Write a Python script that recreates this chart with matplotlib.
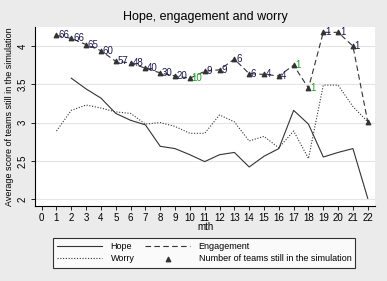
import matplotlib.pyplot as plt

plt.rcParams["font.family"] = ["Liberation Sans", "DejaVu Sans"]

months = list(range(1, 23))
hope = [None, 3.58, 3.44, 3.32, 3.12, 3.03, 2.97, 2.69, 2.66, 2.58, 2.49, 2.58, 2.61,
        2.42, 2.56, 2.66, 3.16, 2.98, 2.55, 2.61, 2.66, 2.01]
worry = [2.89, 3.16, 3.23, 3.19, 3.14, 3.12, 2.98, 3.00, 2.95, 2.86, 2.86, 3.10, 3.01,
         2.76, 2.82, 2.67, 2.89, 2.53, 3.49, 3.49, 3.21, 3.01]
engagement = [4.14, 4.10, 4.02, 3.94, 3.80, 3.78, 3.71, 3.65, 3.61, 3.58, 3.67, 3.69, 3.83,
              3.64, 3.63, 3.61, 3.75, 3.45, 4.18, 4.18, 4.00, 3.01]
teams = ["66", "66", "65", "60", "57", "48", "40", "30", "20", "10", "9", "9", "6",
         "6", "4", "4", "1", "1", "1", "1", "1", ""]
label_colors = ["#1a1a50"] * 22
label_colors[9] = "#22a022"
label_colors[16] = "#22a022"
label_colors[17] = "#22a022"

hope_x = [m for m, v in zip(months, hope) if v is not None]
hope_y = [v for v in hope if v is not None]

fig = plt.figure(figsize=(3.87, 2.81), dpi=100)
fig.patch.set_facecolor("#ebebeb")
ax = fig.add_axes([0.0904, 0.267, 0.879, 0.637])
ax.set_facecolor("white")

for y in [2, 2.5, 3, 3.5, 4]:
    ax.axhline(y, color="#e4e4e4", lw=0.8, zorder=0)

l1, = ax.plot(hope_x, hope_y, color="#333333", lw=0.8, label="Hope")
l2, = ax.plot(months, worry, color="#333333", lw=0.8, ls=(0, (1, 1.5)), label="Worry")
l3, = ax.plot(months, engagement, color="#333333", lw=0.8, ls=(0, (5, 3)), label="Engagement")
l4 = ax.scatter(months, engagement, marker="^", s=10, color="#333333", zorder=3,
                label="Number of teams still in the simulation")
for m, e, t, c in zip(months, engagement, teams, label_colors):
    ax.text(m + 0.12, e, t, fontsize=7, color=c, va="center", ha="left")

ax.set_xlim(-0.45, 22.5)
ax.set_ylim(1.91, 4.25)
ax.set_xticks(range(0, 23))
ax.set_yticks([2, 2.5, 3, 3.5, 4])
ax.set_yticklabels(["2", "2.5", "3", "3.5", "4"], rotation=90, va="center")
ax.tick_params(labelsize=7, length=3, width=0.6, pad=2)
for s in ["top", "right"]:
    ax.spines[s].set_visible(False)
ax.spines["left"].set_linewidth(0.8)
ax.spines["bottom"].set_linewidth(0.8)
ax.set_xlabel("mth", fontsize=7, labelpad=-1)
ax.set_ylabel("Average score of teams still in the simulation", fontsize=6.5, labelpad=3)
ax.set_title("Hope, engagement and worry", fontsize=9, pad=5)

leg = fig.legend(handles=[l1, l2, l3, l4], ncol=2, loc="center",
                 bbox_to_anchor=(0.528, 0.1), fontsize=6.5, frameon=True, fancybox=False,
                 edgecolor="black", handlelength=5, columnspacing=1.2,
                 labelspacing=0.35, borderpad=0.45, handletextpad=0.9)
leg.get_frame().set_linewidth(0.8)

fig.savefig("out.png", dpi=100, facecolor=fig.get_facecolor())
